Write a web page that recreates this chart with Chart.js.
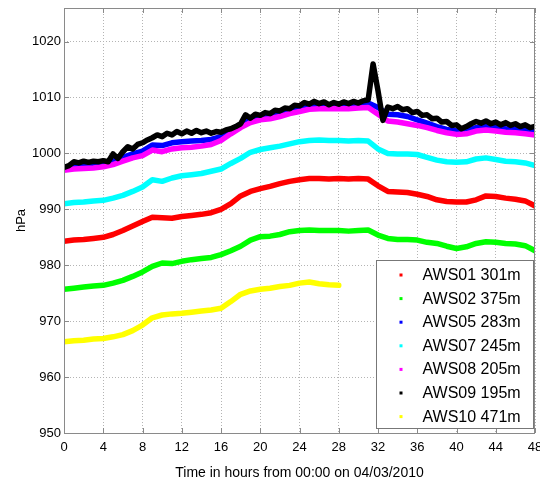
<!DOCTYPE html>
<html>
<head>
<meta charset="utf-8">
<script src="https://cdn.jsdelivr.net/npm/chart.js@4.4.1/dist/chart.umd.min.js"></script>
<style>
  html, body { margin: 0; padding: 0; background: #fff; }
</style>
</head>
<body>
<canvas id="pressureChart" width="540" height="485"></canvas>
<script>
// hourly time axis (hours from 00:00 on 04/03/2010)
const hours = [0,1,2,3,4,5,6,7,8,9,10,11,12,13,14,15,16,17,18,19,20,21,22,23,24,
               25,26,27,28,29,30,31,32,33,34,35,36,37,38,39,40,41,42,43,44,45,46,47,48];
// half-hourly axis for the noisier AWS09 record
const halfHours = [0,0.5,1,1.5,2,2.5,3,3.5,4,4.5,5,5.5,6,6.5,7,7.5,8,8.5,9,9.5,10,10.5,11,11.5,
                   12,12.5,13,13.5,14,14.5,15,15.5,16,16.5,17,17.5,18,18.5,19,19.5,20,20.5,21,21.5,
                   22,22.5,23,23.5,24,24.5,25,25.5,26,26.5,27,27.5,28,28.5,29,29.5,30,30.5,31,31.5,
                   32,32.5,33,33.5,34,34.5,35,35.5,36,36.5,37,37.5,38,38.5,39,39.5,40,40.5,41,41.5,
                   42,42.5,43,43.5,44,44.5,45,45.5,46,46.5,47,47.5,48];

const aws01 = [984.3,984.5,984.6,984.8,985.0,985.5,986.2,987.0,987.8,988.6,988.5,988.4,988.7,988.9,
               989.1,989.4,990.0,991.0,992.4,993.2,993.7,994.1,994.6,995.0,995.3,995.5,995.5,995.4,
               995.5,995.4,995.5,995.4,994.2,993.2,993.1,993.0,992.7,992.3,991.7,991.4,991.3,991.3,
               991.7,992.4,992.3,992.0,991.8,991.5,990.6];
const aws02 = [975.7,975.9,976.1,976.3,976.4,976.8,977.3,978.0,978.8,979.8,980.4,980.3,980.7,981.0,
               981.2,981.4,981.9,982.6,983.4,984.5,985.1,985.2,985.5,986.0,986.2,986.3,986.2,986.2,
               986.2,986.1,986.2,986.3,985.4,984.8,984.6,984.6,984.5,984.1,983.9,983.4,983.0,983.3,
               983.9,984.2,984.1,983.9,983.8,983.5,982.6];
const aws05 = [997.4,997.7,997.8,997.9,998.1,998.6,999.3,999.9,1000.4,1001.5,1001.4,1001.9,1002.1,1002.2,
               1002.3,1002.5,1003.0,1004.1,1005.2,1006.0,1006.6,1006.8,1007.2,1007.7,1008.1,1008.5,1008.6,1008.6,
               1008.6,1008.6,1008.7,1009.0,1008.2,1007.0,1006.9,1006.6,1006.0,1005.4,1004.8,1004.3,1004.0,1004.1,
               1004.6,1004.8,1004.6,1004.4,1004.3,1004.1,1004.0];
const aws07 = [991.0,991.2,991.3,991.5,991.6,992.0,992.5,993.2,994.0,995.3,995.0,995.6,996.0,996.2,
               996.4,996.8,997.2,998.2,999.1,1000.2,1000.7,1001.0,1001.3,1001.7,1002.1,1002.3,1002.4,1002.3,
               1002.3,1002.2,1002.3,1002.2,1000.8,1000.0,999.9,999.9,999.8,999.3,998.8,998.5,998.4,998.5,
               999.0,999.2,998.9,998.6,998.5,998.3,997.8];
const aws08 = [997.0,997.2,997.3,997.4,997.6,998.0,998.6,999.2,999.6,1000.6,1000.3,1000.8,1001.0,1001.1,
               1001.3,1001.6,1002.3,1003.5,1004.6,1005.5,1006.0,1006.2,1006.6,1007.1,1007.5,1007.9,1008.0,1008.0,
               1008.0,1008.0,1008.1,1008.2,1007.0,1005.8,1005.6,1005.3,1005.0,1004.6,1004.1,1003.7,1003.4,1003.5,
               1004.0,1004.2,1004.0,1003.8,1003.7,1003.5,1003.3];
const aws09 = [997.5,997.8,998.5,998.3,998.6,998.4,998.6,998.5,998.7,998.5,999.9,999.1,1000.3,1001.2,
               1000.8,1001.6,1001.9,1002.4,1002.8,1003.3,1003.0,1003.6,1003.3,1003.9,1003.5,1004.0,1003.6,
               1004.1,1003.7,1004.0,1003.6,1003.9,1003.8,1004.2,1004.4,1004.8,1005.3,1006.9,1006.3,1007.0,
               1006.8,1007.3,1007.1,1007.7,1007.6,1008.1,1008.0,1008.6,1008.5,1009.1,1008.8,1009.3,1008.9,
               1009.2,1008.7,1009.1,1008.8,1009.2,1008.9,1009.3,1009.0,1009.4,1009.6,1016.0,1011.2,1005.9,
               1008.3,1008.0,1008.4,1007.8,1008.0,1007.3,1007.5,1006.8,1006.9,1006.2,1006.3,1005.6,1005.7,
               1005.0,1005.1,1004.4,1004.8,1005.3,1005.7,1005.4,1005.8,1005.3,1005.6,1005.1,1005.5,1005.0,
               1005.3,1004.8,1005.1,1004.6,1004.8];
// AWS10 stops reporting after hour 28
const aws10 = [966.3,966.5,966.6,966.8,966.9,967.2,967.6,968.3,969.3,970.6,971.1,971.3,971.4,971.6,
               971.8,972.0,972.3,973.5,974.8,975.4,975.7,975.9,976.2,976.4,976.8,977.0,976.7,976.5,976.4];

const stationLabels = ['AWS01 301m','AWS02 375m','AWS05 283m','AWS07 245m','AWS08 205m','AWS09 195m','AWS10 471m'];
const stationColors = ['#ff0000','#00ff00','#0000ff','#00ffff','#ff00ff','#000000','#ffff00'];
const xTicks = [0,4,8,12,16,20,24,28,32,36,40,44,48];
const yTicks = [950,960,970,980,990,1000,1010,1020];

const series = [
  [hours, aws01], [hours, aws02], [hours, aws05], [hours, aws07],
  [hours, aws08], [halfHours, aws09], [hours, aws10]
];

function toPoints(xs, ys) {
  return ys.map((v, i) => ({x: xs[i], y: v}));
}

const datasets = series.map((s, i) => ({
  label: stationLabels[i],
  data: toPoints(s[0], s[1]),
  borderColor: stationColors[i],
  backgroundColor: stationColors[i],
  borderWidth: 5.5,
  borderJoinStyle: 'round',
  borderCapStyle: 'round',
  pointRadius: 0,
  tension: 0,
  fill: false,
  order: series.length - i   // later stations drawn on top
}));

const FONT = 'Liberation Sans, Arial, Helvetica, sans-serif';
const FRAME = '#8a8a8a';

// box frame, inward ticks and the legend in the lower right
const framePlugin = {
  id: 'frame',
  afterDraw(chart) {
    const ctx = chart.ctx;
    const a = chart.chartArea;
    const xs = chart.scales.x, ys = chart.scales.y;
    ctx.save();
    ctx.strokeStyle = FRAME;
    ctx.lineWidth = 1;
    ctx.beginPath();
    xTicks.forEach(t => {
      const px = Math.round(xs.getPixelForValue(t)) + 0.5;
      ctx.moveTo(px, a.bottom); ctx.lineTo(px, a.bottom - 5);
      ctx.moveTo(px, a.top); ctx.lineTo(px, a.top + 5);
    });
    yTicks.forEach(t => {
      const py = Math.round(ys.getPixelForValue(t)) + 0.5;
      ctx.moveTo(a.left, py); ctx.lineTo(a.left + 5, py);
      ctx.moveTo(a.right, py); ctx.lineTo(a.right - 5, py);
    });
    ctx.stroke();
    ctx.strokeRect(Math.round(a.left) + 0.5, Math.round(a.top) + 0.5,
                   Math.round(a.right - a.left) - 1, Math.round(a.bottom - a.top));

    // legend
    const bx = Math.round(a.right) - 158.5, by = Math.round(a.bottom) - 172.5;
    const bw = 157, bh = 168;
    ctx.fillStyle = '#fff';
    ctx.fillRect(bx, by, bw, bh);
    ctx.strokeStyle = '#777';
    ctx.strokeRect(bx, by, bw, bh);
    ctx.font = '16px ' + FONT;
    ctx.textBaseline = 'middle';
    ctx.textAlign = 'left';
    stationLabels.forEach((lab, i) => {
      const cy = by + 14 + i * 23.6;
      ctx.fillStyle = stationColors[i];
      ctx.fillRect(bx + 23, cy - 1, 3, 3);
      ctx.fillStyle = '#000';
      ctx.fillText(lab, bx + 46, cy + 1);
    });
    ctx.restore();
  }
};

new Chart(document.getElementById('pressureChart'), {
  type: 'line',
  data: { datasets: datasets },
  plugins: [framePlugin],
  options: {
    responsive: false,
    animation: false,
    layout: { padding: { top: 8, right: 5, left: 0, bottom: 0 } },
    plugins: { legend: { display: false }, tooltip: { enabled: false } },
    scales: {
      x: {
        type: 'linear',
        min: 0,
        max: 48,
        afterFit(scale) {
          scale.height = 52;
          scale.paddingLeft = 0;
          scale.paddingRight = 0;
        },
        afterBuildTicks(scale) { scale.ticks = xTicks.map(v => ({value: v})); },
        ticks: {
          color: '#000', padding: 7, maxRotation: 0,
          font: { family: FONT, size: 13 },
          callback: v => String(v)
        },
        grid: { color: '#b4b4b4', drawTicks: false, lineWidth: 1 },
        border: { display: false, dash: [1, 2] },
        title: {
          display: true,
          text: 'Time in hours from 00:00 on 04/03/2010',
          color: '#000',
          font: { family: FONT, size: 14 },
          padding: { top: 0, bottom: 3 }
        }
      },
      y: {
        type: 'linear',
        min: 950,
        max: 1026,
        afterFit(scale) {
          scale.width = 64;
          scale.paddingTop = 0;
          scale.paddingBottom = 0;
        },
        afterBuildTicks(scale) { scale.ticks = yTicks.map(v => ({value: v})); },
        ticks: {
          color: '#000', padding: 3,
          font: { family: FONT, size: 13 },
          callback: v => String(v)
        },
        grid: { color: '#b4b4b4', drawTicks: false, lineWidth: 1 },
        border: { display: false, dash: [1, 2] },
        title: {
          display: true,
          text: 'hPa',
          color: '#000',
          font: { family: FONT, size: 13 },
          padding: { top: 14, bottom: 0 }
        }
      }
    }
  }
});
</script>
</body>
</html>
